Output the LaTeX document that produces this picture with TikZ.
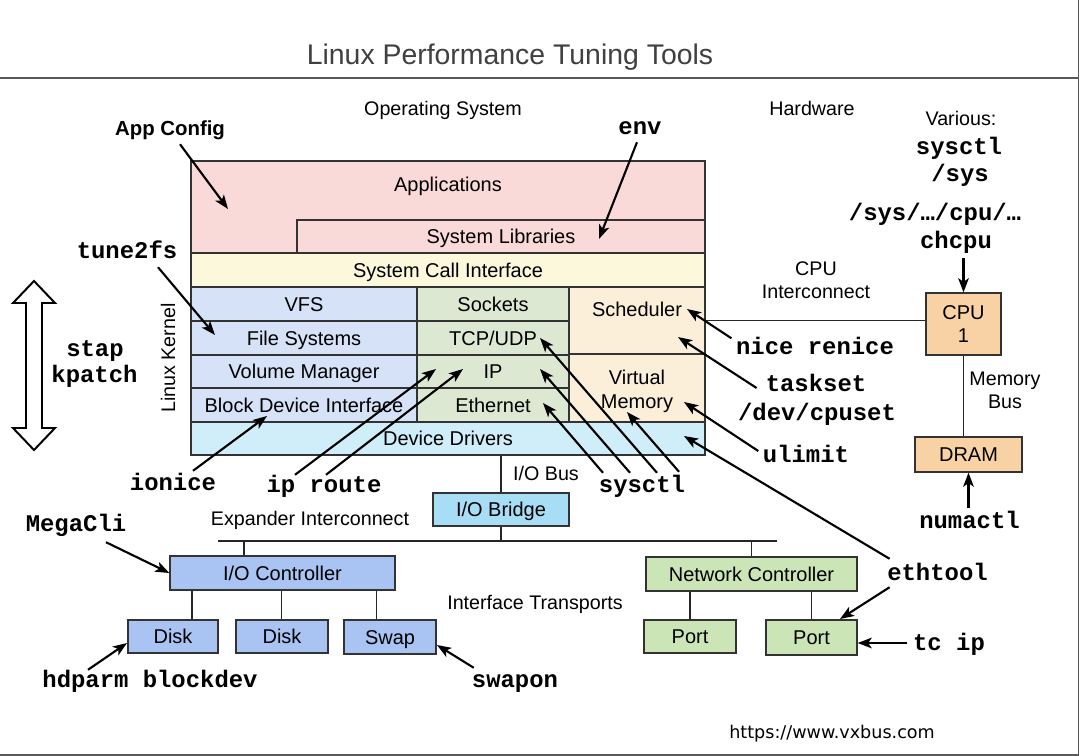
\documentclass[tikz,border=0pt]{standalone}
\usepackage{fontspec}
\setmainfont{Liberation Sans}
\setmonofont{Liberation Mono}
\newfontfamily\urlfont{DejaVu Sans}
\usetikzlibrary{arrows.meta,calc}

\definecolor{appred}{HTML}{FAD9D9}
\definecolor{sciyellow}{HTML}{FCF8DC}
\definecolor{fsblue}{HTML}{D6E2F7}
\definecolor{netgreen}{HTML}{DDE8D3}
\definecolor{cpulight}{HTML}{FCEFD9}
\definecolor{drvcyan}{HTML}{CFEEF9}
\definecolor{bridgecyan}{HTML}{A7DDF5}
\definecolor{ctrlblue}{HTML}{A9C3F3}
\definecolor{nicgreen}{HTML}{CCE5B7}
\definecolor{hworange}{HTML}{F8D2A4}
\definecolor{boxline}{HTML}{333333}

\tikzset{
  dims/.style 2 args={minimum width=#1*0.025cm, minimum height=#2*0.025cm},
  boxbase/.style={draw=boxline, line width=0.9pt, fill=#1, inner sep=0pt,
    font=\fontsize{14.2}{16.5}\selectfont},
  box/.style={boxbase=#1, text height=10pt, text depth=0pt},
  tag/.style={font=\fontsize{14}{16.5}\selectfont, inner sep=1pt,
    text height=10pt, text depth=0pt},
  tagml/.style={font=\fontsize{14}{16.5}\selectfont, inner sep=1pt, align=center},
  tool/.style={font=\fontsize{17}{19}\selectfont\ttfamily\bfseries, inner sep=1pt,
    text height=10pt, text depth=0pt},
  tip/.style={-{Stealth[length=10pt,width=7.5pt,inset=2.5pt]}, line width=1.5pt},
  bus/.style={draw=black!85, line width=1pt},
  frame/.style={draw=black!65, line width=1pt}
}

\begin{document}
\begin{tikzpicture}[x=0.025cm, y=-0.025cm]
  \path[fill=white, use as bounding box] (0,0) rectangle (1080,756);
  \draw[frame] (0,78) -- (1078.5,78);
  \draw[frame] (1078.5,0) -- (1078.5,756);
  \draw[frame] (0,755) -- (1078.5,755);
  \node[font=\fontsize{20.2}{24}\selectfont, text=black!75, anchor=base] (title)
    at (510,64) {Linux Performance Tuning Tools};

  \node[box=appred, dims={514}{92}] (apps) at (448,207) {};
  \node[tag, font=\fontsize{14.2}{16.5}\selectfont] (appstext) at (448,184) {Applications};
  \node[box=appred, dims={408}{33}] (libs) at (501,236.5) {System Libraries};
  \node[box=sciyellow, dims={514}{34}] (sci) at (448,270) {System Call Interface};
  \node[box=fsblue, dims={226}{34}] (vfs) at (304,304) {VFS};
  \node[box=fsblue, dims={226}{34}] (fs) at (304,338) {File Systems};
  \node[box=fsblue, dims={226}{33}] (volmgr) at (304,371.5) {Volume Manager};
  \node[box=fsblue, dims={226}{34}] (bdi) at (304,405) {Block Device Interface};
  \node[box=netgreen, dims={152}{34}] (sockets) at (493,304) {Sockets};
  \node[box=netgreen, dims={152}{34}] (tcpudp) at (493,338) {TCP/UDP};
  \node[box=netgreen, dims={152}{33}] (ip) at (493,371.5) {IP};
  \node[box=netgreen, dims={152}{34}] (ether) at (493,405) {Ethernet};
  \node[box=cpulight, dims={136}{67}] (sched) at (637,320.5) {};
  \node[tag, font=\fontsize{14.2}{16.5}\selectfont] (schedtext) at (637,309) {Scheduler};
  \node[box=cpulight, dims={136}{68}] (vm) at (637,388) {};
  \node[tagml, font=\fontsize{14.2}{17}\selectfont] (vmtext) at (637,391) {Virtual\\Memory};
  \node[box=drvcyan, dims={514}{33}] (drivers) at (448,438.5) {Device Drivers};
  \node[tag, rotate=90] (kernel) at (168,358) {Linux Kernel};

  \node[boxbase=hworange, align=center, dims={75}{62}] (cpu) at (963.5,324) {CPU\\1};
  \node[box=hworange, dims={107}{35}] (dram) at (968.5,454.5) {DRAM};
  \node[box=bridgecyan, dims={136}{33}] (iobridge) at (501,509.5) {I/O Bridge};
  \node[box=ctrlblue, dims={225}{34}] (ioctl) at (282.5,573) {I/O Controller};
  \node[box=ctrlblue, dims={90}{33}] (disk1) at (173,636.5) {Disk};
  \node[box=ctrlblue, dims={92}{33}] (disk2) at (282,636.5) {Disk};
  \node[box=ctrlblue, dims={92}{34}] (swap) at (390,637) {Swap};
  \node[box=nicgreen, dims={211}{34}] (nic) at (751.5,574) {Network Controller};
  \node[box=nicgreen, dims={92}{33}] (port1) at (690,636.5) {Port};
  \node[box=nicgreen, dims={91}{35}] (port2) at (811.5,637.5) {Port};

  \node[tag] (os) at (443,108) {Operating System};
  \node[tag] (hw) at (812,108) {Hardware};
  \node[tag, font=\fontsize{14.5}{17}\selectfont\bfseries] (appcfg) at (170,128) {App Config};
  \node[tag] (various) at (961,118) {Various:};
  \node[tagml] (cpuic) at (816,280) {CPU\\Interconnect};
  \node[tagml] (membus) at (1005,390) {Memory\\Bus};
  \node[tag] (iobus) at (546,473) {I/O Bus};
  \node[tag] (expander) at (310,518) {Expander Interconnect};
  \node[tag] (transports) at (535,602) {Interface Transports};

  \node[tool] (env) at (640,127) {env};
  \node[tool] (sysctlhw) at (959,147) {sysctl};
  \node[tool] (sysfs) at (960,174) {/sys};
  \node[tool] (cpufs) at (935,213) {/sys/…/cpu/…};
  \node[tool] (chcpu) at (956,241) {chcpu};
  \node[tool] (tune) at (127,251) {tune2fs};
  \node[tool] (stap) at (95,349) {stap};
  \node[tool] (kpatch) at (94.5,375) {kpatch};
  \node[tool] (nice) at (815,347) {nice renice};
  \node[tool] (taskset) at (816,384) {taskset};
  \node[tool] (cpuset) at (817,413) {/dev/cpuset};
  \node[tool] (ulimit) at (806,455) {ulimit};
  \node[tool] (numactl) at (969.5,521) {numactl};
  \node[tool] (ethtool) at (937.5,573) {ethtool};
  \node[tool] (tcip) at (949,643) {tc ip};
  \node[tool] (sysctl) at (642,485) {sysctl};
  \node[tool] (iproute) at (324,485) {ip route};
  \node[tool] (ionice) at (173,483) {ionice};
  \node[tool] (megacli) at (76,524) {MegaCli};
  \node[tool] (hdparm) at (150,680) {hdparm blockdev};
  \node[tool] (swapon) at (515,680) {swapon};
  \node[font=\urlfont\fontsize{12.5}{15}\selectfont, inner sep=1pt, text height=9pt,
    text depth=0pt] (url) at (832,732) {https://www.vxbus.com};

  \draw[line width=1.4pt, fill=white, line join=miter]
    (34,281) -- (55,303) -- (42,303) -- (42,428) -- (55,428) -- (34,450)
    -- (13,428) -- (26,428) -- (26,303) -- (13,303) -- cycle;

  \coordinate (busl) at (218,541);
  \coordinate (busr) at (777,541);
  \coordinate (c0) at ($(ioctl.north west)!0.33!(ioctl.north east)$);
  \coordinate (d1) at ($(ioctl.south west)!0.1!(ioctl.south east)$);
  \coordinate (d2) at ($(ioctl.south west)!0.495!(ioctl.south east)$);
  \coordinate (d3) at ($(ioctl.south west)!0.915!(ioctl.south east)$);
  \begin{scope}[bus]
    \draw (sched.east) -- (sched.east -| cpu.west);
    \draw (cpu.south) -- (cpu.south |- dram.north);
    \draw (iobridge.north) -- (iobridge.north |- drivers.south);
    \draw (iobridge.south) -- (iobridge.south |- busl);
    \draw (busl) -- (busr);
    \draw (c0) -- (c0 |- busl);
    \draw (nic.north) -- (nic.north |- busl);
    \draw (d1) -- (d1 |- disk1.north);
    \draw (d2) -- (d2 |- disk2.north);
    \draw (d3) -- (d3 |- swap.north);
    \draw (port1.north) -- (port1.north |- nic.south);
    \draw (port2.north) -- (port2.north |- nic.south);
  \end{scope}

  \coordinate (apptip) at (228,209);
  \coordinate (libtip) at (599,239);
  \coordinate (fstip) at (215,335);
  \coordinate (schedtip) at (687,309);
  \coordinate (schedtip2) at (678,337);
  \coordinate (vmtip) at (684,402);
  \coordinate (vmtip2) at (627,412);
  \coordinate (drvtip) at (684,436);
  \coordinate (porttip) at (840,619);
  \coordinate (ethtip) at (543,403);
  \coordinate (iptip) at (540,369);
  \coordinate (tcptip) at (540,338);
  \coordinate (iptipa) at (436,369);
  \coordinate (iptipb) at (463,369);
  \coordinate (bditip) at (267,416);
  \coordinate (disktip) at (127,643);
  \coordinate (swaptip) at (437,645);
  \begin{scope}[tip]
    \draw ([shift={(10,7.5)}]appcfg.south) -- (apptip);
    \draw ([shift={(-3,6.5)}]env.south) -- (libtip);
    \draw ([shift={(31,7.5)}]tune.south) -- (fstip);
    \draw ([shift={(-3,0)}]nice.north west) -- (schedtip);
    \draw ([shift={(-7.5,4)}]taskset.west) -- (schedtip2);
    \draw ([shift={(-3,-4)}]ulimit.west) -- (vmtip);
    \draw ([shift={(4,-5.5)}]ethtool.north west) -- (drvtip);
    \draw ([shift={(4,5.5)}]ethtool.south west) -- (porttip);
    \draw[shorten <=3pt] (tcip.west) -- (tcip.west -| port2.east);
    \draw[shorten <=3pt] (dram.south |- numactl.north) -- (dram.south);
    \draw[shorten <=6pt] (cpu.north |- chcpu.south) -- (cpu.north);
    \draw ([shift={(-39,-3.5)}]sysctl.north) -- (ethtip);
    \draw ([shift={(-12,-3.5)}]sysctl.north) -- (iptip);
    \draw ([shift={(15,-3.5)}]sysctl.north) -- (tcptip);
    \draw ([shift={(37,-4.5)}]sysctl.north) -- (vmtip2);
    \draw ([shift={(-29,-1.5)}]iproute.north) -- (iptipa);
    \draw ([shift={(2,-1.5)}]iproute.north) -- (iptipb);
    \draw ([shift={(20,-3.5)}]ionice.north) -- (bditip);
    \draw ([shift={(30,9.5)}]megacli.south) -- (ioctl.west);
    \draw ([shift={(-62,-1.5)}]hdparm.north) -- (disktip);
    \draw ([shift={(3.5,-3.5)}]swapon.north west) -- (swaptip);
  \end{scope}
\end{tikzpicture}
\end{document}
